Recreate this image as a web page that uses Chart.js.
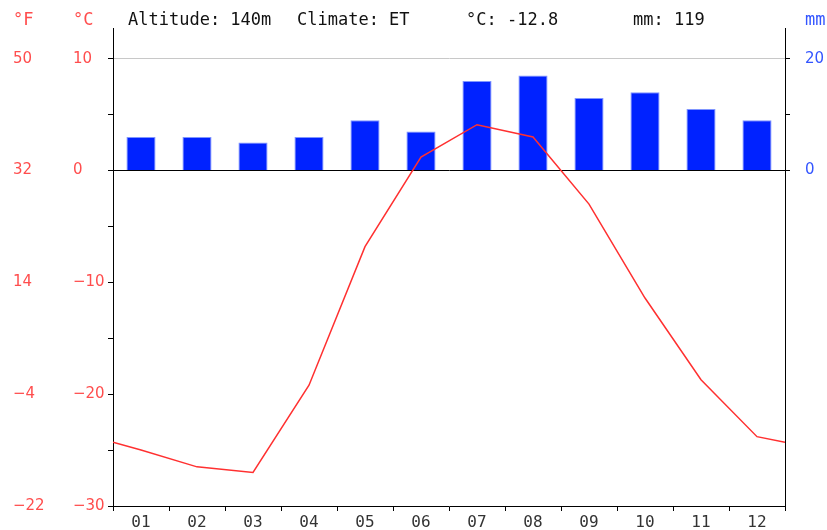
<!DOCTYPE html>
<html>
<head>
<meta charset="utf-8">
<script src="https://cdn.jsdelivr.net/npm/chart.js@4/dist/chart.umd.min.js"></script>
<style>
html, body { margin: 0; padding: 0; background: #fff; }
#wrap { width: 827px; height: 530px; }
</style>
</head>
<body>
<div id="wrap"><canvas id="climate-chart"></canvas></div>
<script>
const months = ['01', '02', '03', '04', '05', '06', '07', '08', '09', '10', '11', '12']
const temperature = [-25.0, -26.5, -27.0, -19.2, -6.8, 1.2, 4.1, 3.0, -3.0, -11.4, -18.7, -23.8]
const precipitation = [6, 6, 5, 6, 9, 7, 16, 17, 13, 14, 11, 9]
// where the red line meets the left and right frame
const edgeTemperature = -24.3
const celsiusTicks = [10, 5, 0, -5, -10, -15, -20, -25, -30]
const celsiusLabels = [10, 0, -10, -20, -30]
const fahrenheitTicks = [50, 32, 14, -4, -22]
const mmTicks = [20, 10, 0]
const mmLabels = [20, 0]
const headerLabels = ['Altitude: 140m', 'Climate: ET', '°C: -12.8', 'mm: 119']

const cMin = -30, cMax = 12.75
const minus = v => String(v).replace('-', '\u2212')

// month centres sit at 0.5 .. 11.5 on the hidden linear axis
let lineData = [{ x: 0, y: edgeTemperature }]
for (let i = 0; i < months.length; i++) {
    lineData.push({ x: i + 0.5, y: temperature[i] })
}
lineData.push({ x: 12, y: edgeTemperature })

const headerPlugin = {
    id: 'header',
    afterDraw(chart) {
        const ctx = chart.ctx
        ctx.save()
        ctx.font = '17px "DejaVu Sans Mono"'
        ctx.textBaseline = 'middle'
        ctx.textAlign = 'left'
        ctx.fillStyle = '#ff4d4d'
        ctx.fillText('°F', 13, 21)
        ctx.fillText('°C', 73, 21)
        ctx.fillStyle = '#3355ff'
        ctx.fillText('mm', 805, 21)
        ctx.fillStyle = '#111'
        const xs = [128, 297, 466, 633]
        headerLabels.forEach((t, i) => ctx.fillText(t, xs[i], 21))
        ctx.restore()
    }
}

new Chart(document.getElementById('climate-chart'), {
    type: 'bar',
    data: {
        labels: months,
        datasets: [{
            type: 'bar',
            data: precipitation,
            xAxisID: 'x',
            yAxisID: 'y1',
            backgroundColor: '#0022ff',
            borderColor: '#8096ff',
            borderWidth: 1,
            grouped: false,
            categoryPercentage: 1,
            barPercentage: 0.52,
            order: 1,
        }, {
            type: 'line',
            data: lineData,
            xAxisID: 'xl',
            yAxisID: 'y',
            borderColor: '#ff3030',
            borderWidth: 1.5,
            pointRadius: 0,
            tension: 0,
            fill: false,
            order: 0,
        }]
    },
    options: {
        animation: false,
        responsive: true,
        maintainAspectRatio: false,
        layout: { padding: { top: 28, left: 13, right: 0, bottom: 0 } },
        plugins: {
            legend: { display: false },
            tooltip: { enabled: false },
        },
        scales: {
            x: {
                type: 'category',
                position: 'bottom',
                offset: true,
                grid: { offset: true, drawOnChartArea: false, tickLength: 5, tickColor: '#000' },
                border: { color: '#000' },
                ticks: {
                    color: '#333',
                    font: { family: 'DejaVu Sans Mono', size: 16 },
                    padding: 2,
                    maxRotation: 0,
                    autoSkip: false,
                },
                afterFit: s => { s.height = 24 },
            },
            xl: {
                type: 'linear',
                display: false,
                offset: false,
                grid: { offset: false },
                min: 0,
                max: 12,
            },
            y: {
                position: 'left',
                weight: 0,
                min: cMin,
                max: cMax,
                afterBuildTicks: s => { s.ticks = celsiusTicks.map(v => ({ value: v })) },
                grid: {
                    color: c => c.tick && c.tick.value === 0 ? '#000' : (c.tick && c.tick.value === 10 ? '#c8c8c8' : 'rgba(0,0,0,0)'),
                    tickColor: '#000',
                    tickLength: 5,
                },
                border: { color: '#000' },
                ticks: {
                    crossAlign: 'far',
                    color: '#ff4d4d',
                    font: { family: 'DejaVu Sans', size: 15 },
                    callback: v => celsiusLabels.includes(v) ? minus(v) : '',
                },
                afterFit: s => { s.width = 40 },
            },
            yf: {
                position: 'left',
                weight: 1,
                min: 32 + 1.8 * cMin,
                max: 32 + 1.8 * cMax,
                afterBuildTicks: s => { s.ticks = fahrenheitTicks.map(v => ({ value: v })) },
                grid: { display: false },
                border: { display: false },
                ticks: {
                    crossAlign: 'far',
                    color: '#ff4d4d',
                    font: { family: 'DejaVu Sans', size: 15 },
                    callback: v => minus(v),
                },
                afterFit: s => { s.width = 60 },
            },
            y1: {
                position: 'right',
                min: 2 * cMin,
                max: 2 * cMax,
                afterBuildTicks: s => { s.ticks = mmTicks.map(v => ({ value: v })) },
                grid: { drawOnChartArea: false, tickLength: 5, tickColor: '#000' },
                border: { color: '#000' },
                ticks: {
                    color: '#3355ff',
                    padding: 15,
                    font: { family: 'DejaVu Sans', size: 15 },
                    callback: v => mmLabels.includes(v) ? v : '',
                },
                afterFit: s => { s.width = 42 },
            },
        }
    },
    plugins: [headerPlugin],
});
</script>
</body>
</html>
